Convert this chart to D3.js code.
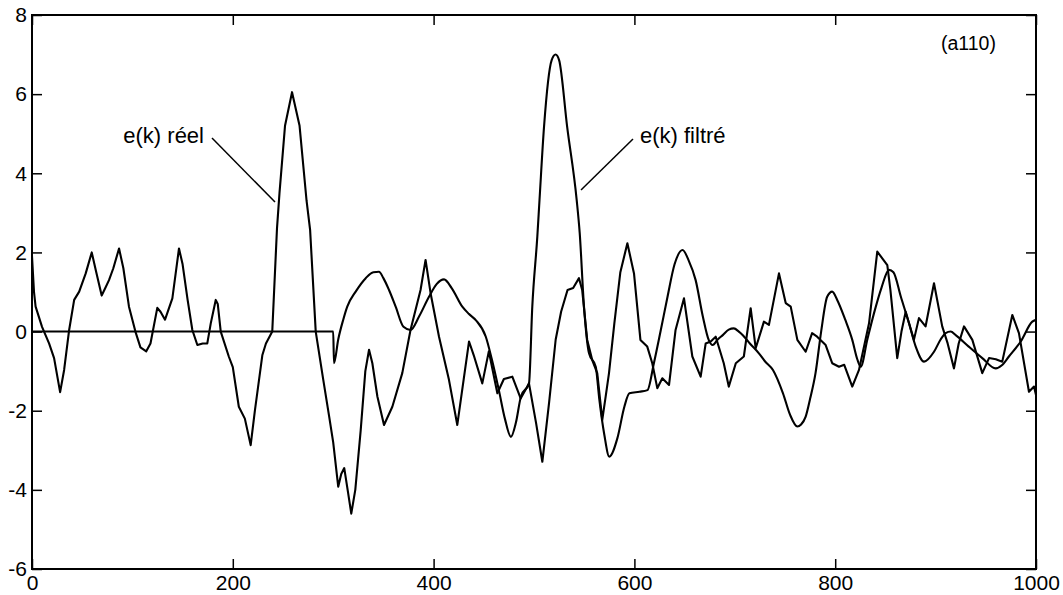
<!DOCTYPE html>
<html><head><meta charset="utf-8">
<script src="https://cdn.jsdelivr.net/npm/d3@7"></script>
<style>
html,body{margin:0;padding:0;background:#fff;}
svg{display:block;}
text{font-family:"Liberation Sans",Arial,Helvetica,sans-serif;fill:#000;}
</style></head>
<body>
<svg id="chart" width="1063" height="595"></svg>
<script>
// ---- data ----
const realK = [0,2,3.6,10,17,22,28,32,37,42,47,53.5,59.5,64,69.4,73,76.7,81,86.7,91,96.6,103,108,113.8,118,124.8,128,132.5,139.8,146.4,150,155,159.7,164.7,170,174.6,178,183,185,188,196,200,206,212,217.8,222,229.4,233,239.3,244,246.5,252,259,266.5,273.5,277,282.6,290,296,300,305,308,311,315,318,322,327.4,332,335.7,339,344,350.6,358.9,368.8,377,387,392,397,405.4,415.3,423.6,430,435.3,440,448.5,455,463.5,470,478.4,486.7,495,502,508.3,515,521.6,527,533.4,539,544.8,548,553,558,563,568,571.4,574.7,580,586,593,599.6,606,612.8,617.8,622.8,627.8,634.5,641,649.4,657.7,666,671,676,681,689,694,701,709,715.8,720.8,729,734,744,750.7,755.7,762.3,770.6,777,782,790.5,797,803.8,809,817,823.7,833.7,841.9,851.9,855,861.8,866,870.2,878.4,883.4,890,898.4,906.6,912,918.3,923,928.3,936.6,946.5,953.2,960,966.4,976.4,983,993,998,1000];
const realE = [1.9,1.0,0.63,0.12,-0.3,-0.67,-1.53,-0.97,0.04,0.8,1.01,1.47,2.0,1.5,0.91,1.1,1.3,1.6,2.1,1.6,0.63,0.0,-0.4,-0.5,-0.3,0.6,0.5,0.3,0.84,2.1,1.7,0.8,0.04,-0.34,-0.3,-0.3,0.2,0.8,0.7,0.0,-0.63,-0.9,-1.9,-2.2,-2.87,-2.0,-0.6,-0.3,0.0,2.6,3.5,5.2,6.05,5.2,3.3,2.57,0.0,-1.2,-2.15,-2.8,-3.92,-3.6,-3.45,-4.1,-4.6,-4.0,-2.49,-1.0,-0.46,-0.8,-1.64,-2.36,-1.9,-1.05,0.04,1.05,1.81,0.97,-0.13,-1.22,-2.36,-1.2,-0.25,-0.6,-1.31,-0.5,-1.56,-1.2,-1.14,-1.69,-1.31,-2.3,-3.29,-1.8,-0.2,0.5,1.05,1.1,1.35,1.05,-0.21,-0.72,-1.05,-2.23,-1.64,-1.05,0.2,1.5,2.23,1.47,-0.21,-0.38,-0.8,-1.43,-1.18,-1.35,0.04,0.84,-0.63,-1.14,-0.3,-0.25,-0.13,-0.8,-1.39,-0.8,-0.63,0.59,-0.42,0.25,0.17,1.47,0.72,0.63,-0.21,-0.51,-0.04,-0.13,-0.34,-0.8,-0.89,-0.84,-1.39,-0.97,0.21,2.02,1.68,1.05,-0.67,0.0,0.5,-0.21,0.34,0.13,1.22,0.13,-0.3,-0.93,-0.3,0.13,-0.21,-1.05,-0.67,-0.7,-0.76,0.42,-0.04,-1.52,-1.39,-1.6];

const filtK = [0,300,300.8,305,310,314,322.4,332.4,340,345.6,350,355.6,362.2,370,377,385.5,395.4,403,410.4,418,428.6,435,442,452,458,465,471,477,482,487,495,498.3,503.3,505.5,510,517.6,521.5,525,533,542.5,545.5,549.8,554.8,561.5,565,570,575,583,590,595,605,613,619.4,626,633,640,648,654,661,668,674,678,683,688,694,699,704,708,715,724,730,738,748,755,762.3,766,770.6,775,780.4,786,792,797,802,810,817,822,825.4,832,838.6,846,853.6,858,865.4,873.5,880.2,888.5,898.4,905,910,915,920,933,946.5,959.8,966,973,984.8,996.3,1000];
const filtE = [0,0,-0.8,-0.2,0.3,0.63,1.01,1.35,1.5,1.51,1.35,1.05,0.63,0.12,0.04,0.38,0.88,1.2,1.32,1.1,0.63,0.45,0.29,-0.13,-0.7,-1.48,-2.2,-2.66,-2.3,-1.64,-1.31,0.63,2.4,3.33,5.18,6.86,7.0,6.86,5.18,3.33,2.5,0.63,-0.55,-0.89,-1.7,-2.6,-3.16,-2.7,-1.9,-1.56,-1.52,-1.48,-0.8,0.0,0.88,1.7,2.06,1.8,1.3,0.4,-0.21,-0.34,-0.2,-0.09,0.05,0.08,0.0,-0.09,-0.3,-0.55,-0.75,-0.97,-1.56,-2.1,-2.4,-2.35,-2.15,-1.7,-1.05,0.0,0.88,1.01,0.8,0.3,-0.21,-0.7,-0.89,-0.2,0.46,1.1,1.56,1.5,0.88,0.21,-0.38,-0.76,-0.51,-0.2,-0.04,0.0,-0.09,-0.38,-0.67,-0.93,-0.85,-0.63,-0.25,0.25,0.3];

const xTicks = [0,200,400,600,800,1000];
const yTicks = [-6,-4,-2,0,2,4,6,8];
const labelReal = "e(k) réel";
const labelFilt = "e(k) filtré";
const panelTag = "(a110)";

// ---- layout ----
const svg = d3.select("#chart");
const L = 32, R = 1036, T = 15, B = 569;
const x = d3.scaleLinear().domain([0,1000]).range([L,R]);
const y = d3.scaleLinear().domain([-6,8]).range([B,T]);
const tickLen = 10;

const axB = d3.axisBottom(x).tickValues(xTicks).tickSize(-tickLen).tickPadding(6).tickFormat(d3.format("d"));
const axT = d3.axisTop(x).tickValues(xTicks).tickSize(-tickLen).tickFormat("");
const axL = d3.axisLeft(y).tickValues(yTicks).tickSize(-tickLen).tickPadding(5).tickFormat(d => d < 0 ? "-" + Math.abs(d) : String(d));
const axR = d3.axisRight(y).tickValues(yTicks).tickSize(-tickLen).tickFormat("");

function style(g){
  g.selectAll(".tick line").attr("stroke","#000").attr("stroke-width",1.5);
  g.selectAll(".tick text").style("font-size","21px").attr("fill","#000");
}
svg.append("g").attr("transform",`translate(0,${B})`).call(axB).call(style)
   .selectAll(".tick text").attr("dy","0.72em");
svg.append("g").attr("transform",`translate(0,${T})`).call(axT).call(style);
svg.append("g").attr("transform",`translate(${L},0)`).call(axL).call(style);
svg.append("g").attr("transform",`translate(${R},0)`).call(axR).call(style);
svg.selectAll(".domain").remove();
svg.append("rect").attr("x",L).attr("y",T).attr("width",R-L).attr("height",B-T)
   .attr("fill","none").attr("stroke","#000").attr("stroke-width",2);

// ---- lines ----
const lineReal = d3.line().x(d => x(d[0])).y(d => y(d[1])).curve(d3.curveLinear);
const lineFilt = d3.line().x(d => x(d[0])).y(d => y(d[1])).curve(d3.curveMonotoneX);
const realData = realK.map((k,i) => [k, realE[i]]);
const filtData = filtK.map((k,i) => [k, filtE[i]]);

svg.append("path").datum(filtData).attr("d",lineFilt)
   .attr("fill","none").attr("stroke","#000").attr("stroke-width",2.1).attr("stroke-linejoin","round");
svg.append("path").datum(realData).attr("d",lineReal)
   .attr("fill","none").attr("stroke","#000").attr("stroke-width",2.1).attr("stroke-linejoin","round");

// ---- annotations ----
svg.append("text").attr("x",204).attr("y",143).attr("text-anchor","end").style("font-size","22px").text(labelReal);
svg.append("line").attr("x1",212).attr("y1",138).attr("x2",275).attr("y2",202)
   .attr("stroke","#000").attr("stroke-width",1.5);
svg.append("text").attr("x",640).attr("y",143).style("font-size","22px").text(labelFilt);
svg.append("line").attr("x1",633).attr("y1",139).attr("x2",581).attr("y2",190)
   .attr("stroke","#000").attr("stroke-width",1.5);
svg.append("text").attr("x",941).attr("y",50).style("font-size","19.5px").text(panelTag);
</script>
</body></html>
